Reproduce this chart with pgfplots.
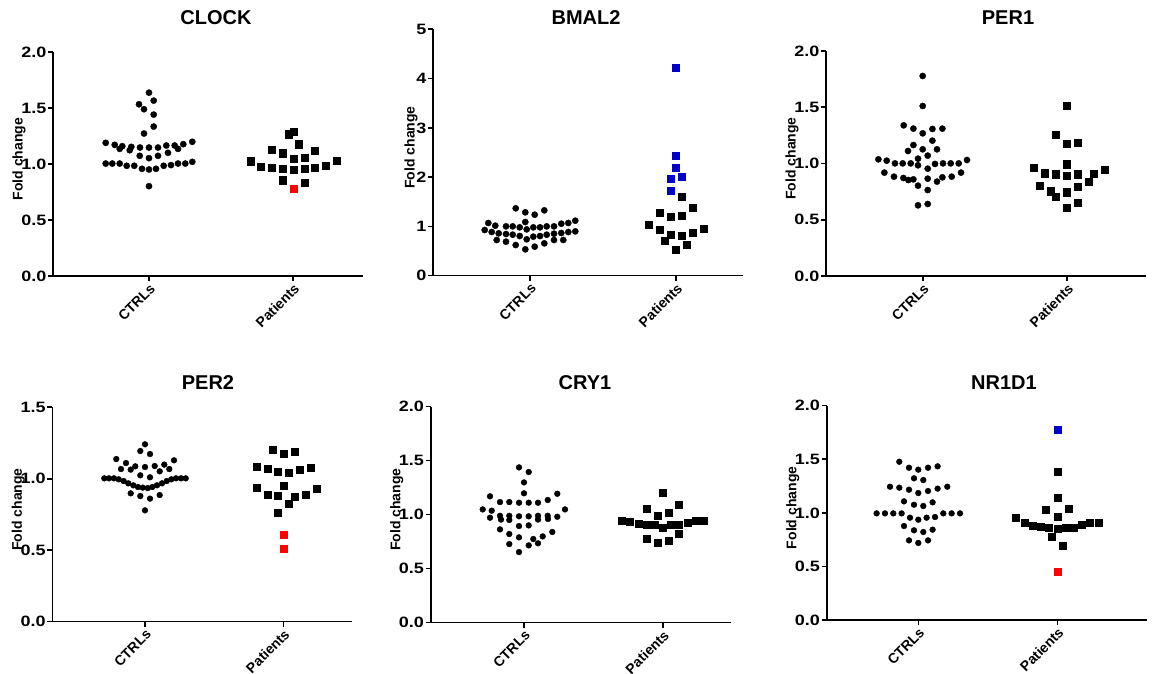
\documentclass[border=0pt]{standalone}
\usepackage{fontspec}
\setmainfont{Liberation Sans}
\newfontfamily\tickfont[FakeStretch=1.2]{Liberation Sans}
\usepackage{pgfplots}
\pgfplotsset{compat=1.18}

\definecolor{gpred}{RGB}{255,0,0}
\definecolor{gpblue}{RGB}{0,0,200}

\pgfplotsset{
  gp/.style={
    scale only axis, clip=false,
    axis lines*=left,
    axis line style={line width=1.6pt,-},
    every tick/.style={line width=1.6pt,black},
    tick align=outside, major tick length=5pt,
    ymin=0,
    yticklabel style={font=\fontsize{15}{17}\selectfont\tickfont\bfseries, inner sep=1.5pt},
    xticklabel style={rotate=45, anchor=north east, inner sep=1pt,
      font=\fontsize{14}{16}\selectfont\bfseries},
    ylabel={Fold change},
    ylabel style={at={(axis description cs:0,0.5)}, anchor=center,
      yshift=34pt, xshift=5pt, font=\fontsize{14}{16}\selectfont\bfseries},
    xticklabels={CTRLs,Patients},
  },
  ctl/.style={only marks, mark=*, mark size=3.1pt, black},
  pat/.style={only marks, mark=square*, mark size=3.6pt, black},
  patred/.style={only marks, mark=square*, mark size=3.6pt, gpred},
  patblue/.style={only marks, mark=square*, mark size=3.6pt, gpblue},
}

\begin{document}
\begin{tikzpicture}[x=1pt,y=1pt]
\path[use as bounding box] (0,0) rectangle (1160,674);

% ---------- CLOCK ----------
\begin{axis}[gp, at={(53pt,398pt)}, anchor=south west,
  width=310pt, height=224pt, xmin=-96, xmax=214, xtick={0,144},
  ymax=2, ytick={0,0.5,1,1.5,2}, yticklabels={0.0,0.5,1.0,1.5,2.0}]
\addplot[ctl] coordinates {
 (0,1.637) (-10,1.533) (4.7,1.566) (-5,1.489) (4.7,1.441) (4.7,1.334) (-5,1.272)
 (-43.3,1.189) (-34.3,1.171) (-29.3,1.135) (-26.7,1.159) (-19.3,1.123) (-17.7,1.153)
 (-9,1.147) (0,1.147) (9,1.147) (17.3,1.165) (19,1.100) (25.7,1.165) (29,1.135)
 (34.3,1.177) (43.3,1.198)
 (-9.3,1.073) (0,1.052) (9,1.073)
 (-43.3,1.004) (-36.7,1.004) (-29.3,1.004) (-22.3,0.984) (-14.7,0.984) (-7,0.957)
 (0,0.951) (7,0.957) (14.7,0.984) (22,0.990) (29,1.004) (36.3,1.004) (43.3,1.019)
 (0,0.802)
};
\addplot[pat] coordinates {
 (139.3,1.266) (144.3,1.290) (149.7,1.177) (122.7,1.129) (133.3,1.097) (166,1.120)
 (144.3,1.046) (155.3,1.058) (101.3,1.025) (112,0.978) (122.7,0.966) (133.3,0.957)
 (144.3,0.948) (155.3,0.957) (166,0.969) (176.7,0.987) (187.3,1.028)
 (133.3,0.856) (155.3,0.835)
};
\addplot[patred] coordinates {(144.3,0.776)};
\end{axis}

% ---------- BMAL2 ----------
\begin{axis}[gp, at={(433pt,398.3pt)}, anchor=south west,
  width=310pt, height=246.4pt, xmin=-97, xmax=213, xtick={0,146},
  ymax=5, ytick={0,1,2,3,4,5}, yticklabels={0,1,2,3,4,5},
  ylabel style={yshift=-12pt}]
\addplot[ctl] coordinates {
 (-14.3,1.367) (-4.7,1.286) (4.7,1.238) (14.3,1.326)
 (-41.7,1.069) (-34.7,1.015) (-24,1.001) (-17.3,1.001) (-10.3,0.981) (-4.7,1.089)
 (-3.3,0.940) (3.3,0.981) (10,0.981) (16.7,1.001) (24,1.001) (31.3,1.055)
 (38.3,1.069) (45.3,1.116)
 (-45.3,0.927) (-38.3,0.886) (-31.3,0.859) (-24,0.846) (-17.3,0.832) (-10.3,0.805)
 (3.3,0.792) (10,0.805) (16.7,0.832) (24,0.853) (31.3,0.866) (38.3,0.886) (45.3,0.900)
 (-33.3,0.724) (-24,0.690) (-14.3,0.622) (-4.7,0.535) (-3.3,0.738) (4.7,0.589)
 (14.3,0.656) (24,0.724) (33.3,0.724)
};
\addplot[patblue] coordinates {
 (146,4.222) (146,2.429) (146,2.199) (151.3,2.009) (140.3,1.962) (140.3,1.719)
};
\addplot[pat] coordinates {
 (151.3,1.604) (162.3,1.380) (129.3,1.279) (140.3,1.198) (151.3,1.211) (118.3,1.028)
 (129.3,0.940) (173.3,0.954) (140.3,0.825) (151.3,0.805) (162.3,0.880) (135,0.710)
 (156.7,0.622) (146,0.528)
};
\end{axis}

% ---------- PER1 ----------
\begin{axis}[gp, at={(826pt,398pt)}, anchor=south west,
  width=320pt, height=225pt, xmin=-96.7, xmax=223.3, xtick={0,144.3},
  ymax=2, ytick={0,0.5,1,1.5,2}, yticklabels={0.0,0.5,1.0,1.5,2.0}]
\addplot[ctl] coordinates {
 (0,1.778) (0,1.511)
 (-19,1.339) (-9.3,1.310) (0,1.268) (9.7,1.307) (19.7,1.310)
 (9.7,1.203) (-9.3,1.164)
 (-14.7,1.111) (0,1.126) (14.3,1.126) (5,1.070) (-4.7,1.043)
 (-44.3,1.037) (-36,1.025) (-27.7,1.001) (-20,1.001) (-12,1.001) (-4.7,0.984)
 (5,0.954) (12.3,0.996) (20.3,1.001) (28,1.001) (36,1.001) (44.3,1.031)
 (-38.3,0.919) (-28.7,0.883) (-19.3,0.871) (-14.3,0.853) (-9.3,0.859) (5,0.865)
 (14.3,0.839) (19.7,0.877) (29,0.883) (38.3,0.919)
 (-4.7,0.803) (5,0.764) (-4.7,0.628) (5,0.640)
};
\addplot[pat] coordinates {
 (144.3,1.511) (133.3,1.253) (144.3,1.173) (155.3,1.182) (144.3,0.993) (111.3,0.966)
 (122.3,0.913) (133.3,0.904) (144.3,0.895) (155.3,0.904) (171.3,0.907) (182.3,0.945)
 (166,0.836) (117,0.806) (155.3,0.794) (127.6,0.753) (133.3,0.705) (144.3,0.744)
 (144.3,0.610) (155.3,0.652)
};
\end{axis}

% ---------- PER2 ----------
\begin{axis}[gp, at={(52.3pt,52.3pt)}, anchor=south west,
  width=300pt, height=214.4pt, xmin=-92.7, xmax=207.3, xtick={0,138.3},
  ymax=1.5, ytick={0,0.5,1,1.5}, yticklabels={0.0,0.5,1.0,1.5}]
\addplot[ctl, mark size=2.9pt] coordinates {
 (0,1.241) (-4.7,1.194) (5,1.173)
 (-28.7,1.138) (-19,1.110) (29,1.129)
 (-24,1.068) (-14.3,1.064) (-9.7,1.087) (0,1.082) (9.7,1.089) (19.3,1.099)
 (14.7,1.052) (24.3,1.068)
 (-4.7,1.024) (5,1.010)
 (-40.7,1.003) (-36,1.003) (-31,1.003) (-26.3,0.996) (-21.3,0.984) (-16.7,0.968)
 (-11.7,0.954) (-7,0.942) (-2.3,0.938) (2.7,0.935) (7.3,0.942) (12,0.954)
 (17,0.968) (21.7,0.984) (26.3,0.996) (31,1.003) (36,1.003) (40.7,1.003)
 (-14.3,0.898) (-4.7,0.879) (5,0.861) (14.7,0.886)
 (0,0.779)
};
\addplot[pat, mark size=3.4pt] coordinates {
 (127.3,1.206) (138.6,1.176) (149.6,1.187) (111.3,1.087) (122.3,1.073) (133,1.050)
 (144,1.040) (155,1.064) (166,1.075) (111.3,0.935) (138.3,0.952) (122.3,0.889)
 (133,0.884) (149.6,0.872) (160.3,0.889) (171.3,0.933) (144,0.826) (133,0.763)
};
\addplot[patred, mark size=3.4pt] coordinates {(138.6,0.606) (138.6,0.513)};
\end{axis}

% ---------- CRY1 ----------
\begin{axis}[gp, at={(430.7pt,51.3pt)}, anchor=south west,
  width=300pt, height=216pt, xmin=-93.3, xmax=206.7, xtick={0,138.7},
  ymax=2, ytick={0,0.5,1,1.5,2}, yticklabels={0.0,0.5,1.0,1.5,2.0}]
\addplot[ctl, mark size=2.9pt] coordinates {
 (-5,1.438) (4.7,1.395) (0,1.299) (0,1.198)
 (-34,1.170) (33.3,1.194) (23.7,1.136)
 (-24,1.117) (-14.7,1.117) (-5,1.111) (4.7,1.111) (14,1.111)
 (-41.3,1.049) (-32.3,1.037) (41,1.049)
 (-34,0.972) (-24,0.990) (-23,0.955) (-14.7,0.990) (-14.7,0.951) (-5,0.985)
 (4.7,0.985) (14,0.990) (14,0.955) (23.7,0.990) (24,0.960) (33.3,0.981)
 (-5,0.895) (4.7,0.901) (-24,0.864) (28.3,0.840)
 (-14.7,0.821) (-5,0.790) (9.3,0.775) (18.7,0.799)
 (-14.7,0.728) (4.7,0.716) (14,0.735) (-5,0.654)
};
\addplot[pat, mark size=3.4pt] coordinates {
 (138.7,1.207) (155,1.090) (122.7,1.052) (144.4,1.019) (133.4,0.988)
 (97.7,0.948) (106,0.935) (114.4,0.917) (122.7,0.907) (130.7,0.907) (138.7,0.880)
 (147,0.907) (155,0.907) (163.4,0.929) (171.4,0.948) (179.7,0.948)
 (155,0.827) (122.7,0.775) (133.4,0.738) (144.4,0.759)
};
\end{axis}

% ---------- NR1D1 ----------
\begin{axis}[gp, at={(826.7pt,54pt)}, anchor=south west,
  width=320pt, height=214.3pt, xmin=-91.6, xmax=228.4, xtick={0,139},
  ymax=2, ytick={0,0.5,1,1.5,2}, yticklabels={0.0,0.5,1.0,1.5,2.0}]
\addplot[ctl, mark size=2.9pt] coordinates {
 (-19,1.477) (-9.3,1.421) (0,1.403) (9.7,1.421) (19.3,1.434)
 (-4.3,1.322) (5,1.306)
 (-28.3,1.244) (-19,1.235) (-9.3,1.216) (0,1.185) (9.7,1.204) (19.3,1.226) (29,1.244)
 (-14.3,1.107) (-4.3,1.076) (5,1.064) (14.3,1.098)
 (-41.7,0.995) (-33.3,0.995) (-25,0.995) (-16.7,0.995) (-8.3,0.955) (0,0.936)
 (8.3,0.955) (16.7,0.961) (25,0.995) (33.3,0.995) (41.7,0.995)
 (-14.3,0.877) (-4.3,0.837) (5,0.821) (14.3,0.843)
 (-9.3,0.743) (0,0.719) (9.7,0.743)
};
\addplot[patblue, mark size=3.4pt] coordinates {(139,1.776)};
\addplot[pat, mark size=3.4pt] coordinates {
 (139,1.387) (139,1.145) (127.7,1.026) (150,1.036) (139,0.964)
 (97.7,0.955) (106,0.911) (114,0.883) (122.3,0.874) (130.7,0.862) (139,0.855)
 (147.3,0.862) (155.3,0.865) (163.7,0.886) (171.7,0.911) (180,0.911)
 (133.3,0.774) (144.3,0.694)
};
\addplot[patred, mark size=3.4pt] coordinates {(139,0.451)};
\end{axis}

% ---------- titles ----------
\begin{scope}[every node/.style={font=\fontsize{20}{24}\selectfont\bfseries}]
\node at (216,656) {CLOCK};
\node at (586,656) {BMAL2};
\node at (1008,656) {PER1};
\node at (208,291) {PER2};
\node at (585,291) {CRY1};
\node at (1004,291) {NR1D1};
\end{scope}
\end{tikzpicture}
\end{document}
